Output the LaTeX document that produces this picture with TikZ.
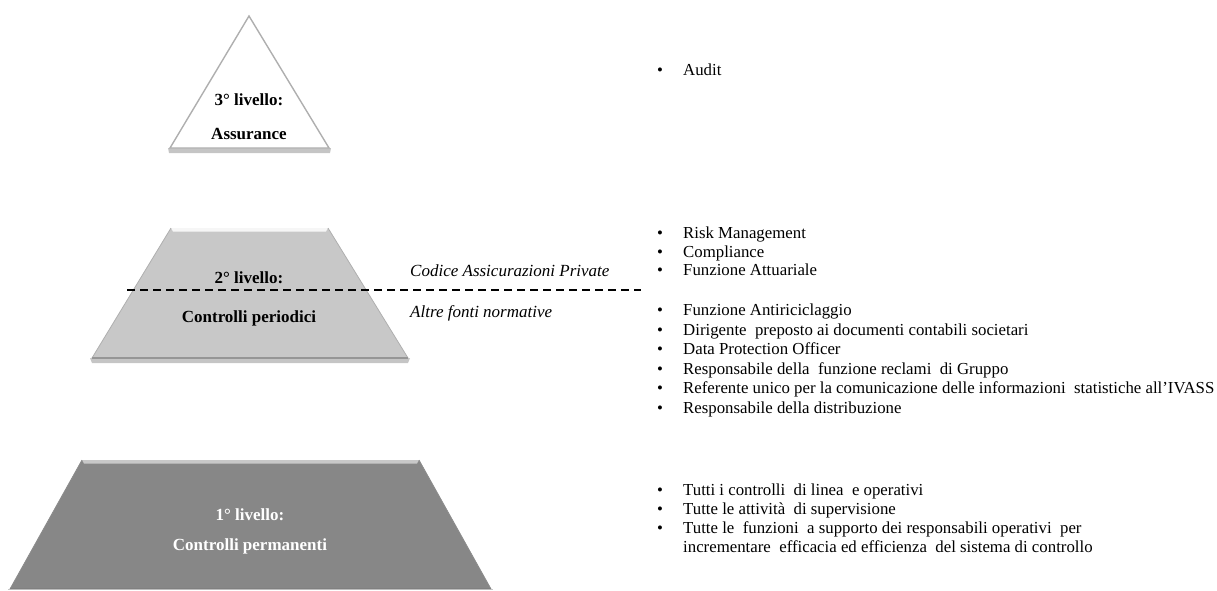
\documentclass[tikz,border=0pt]{standalone}
\usepackage{fontspec}
\setmainfont{Liberation Serif}
\definecolor{lvlA}{RGB}{255,255,255}
\definecolor{lvlB}{RGB}{200,200,200}
\definecolor{lvlC}{RGB}{135,135,135}
\definecolor{edgeA}{RGB}{175,175,175}
\definecolor{shad}{RGB}{150,150,150}
\tikzset{
  lvltext/.style={font=\fontsize{17}{20}\selectfont\bfseries, inner sep=0pt, anchor=base},
  item/.style={font=\fontsize{16.8}{20}\selectfont, inner sep=0pt, anchor=base west},
  bul/.style={font=\fontsize{16.8}{20}\selectfont, inner sep=0pt, anchor=base},
  norm/.style={font=\fontsize{17}{20}\selectfont\itshape, inner sep=0pt, anchor=base west},
  sepline/.style={line width=1.6pt, dash pattern=on 8pt off 5pt}
}
\newcommand{\bitem}[3]{%
  \node[bul] (b#1) at (660,#3) {•};
  \node[item] (t#1) at (683,#3) {#2};}
\begin{document}
\begin{tikzpicture}[x=1pt,y=-1pt]
\useasboundingbox (0,0) rectangle (1217,590);
% ---------- level 3 triangle ----------
\fill[shad, opacity=0.55] (168,148) -- (331,148) -- (330,153) -- (169,153) -- cycle;
\fill[lvlA] (249,16) -- (329,148) -- (170,148) -- cycle;
\draw[edgeA, line width=1.4pt, line join=miter] (249,16) -- (329,148) -- (170,148) -- cycle;
% ---------- level 2 trapezoid ----------
\fill[shad, opacity=0.55] (90,358) -- (410,358) -- (408,363) -- (92,363) -- cycle;
\fill[lvlB] (171,228) -- (328,228) -- (408,358) -- (92,358) -- cycle;
\fill[white, opacity=0.85] (171,228) -- (328,228) -- (326,231.5) -- (173,231.5) -- cycle;
\draw[edgeA, line width=0.8pt] (171,228) -- (92,358);
\draw[edgeA, line width=0.8pt] (328,228) -- (408,358);
\draw[shad, line width=1.4pt] (92,358) -- (408,358);
% ---------- level 1 trapezoid ----------
\fill[shad, opacity=0.55] (8,589) -- (493,589) -- (493,590) -- (8,590) -- cycle;
\fill[lvlC] (82,460) -- (419,460) -- (491,589) -- (10,589) -- cycle;
\fill[white, opacity=0.55] (82,460) -- (419,460) -- (417,463.5) -- (84,463.5) -- cycle;
\draw[black!45, line width=0.8pt] (82,460) -- (10,589);
\draw[black!45, line width=0.8pt] (419,460) -- (491,589);
\draw[black!50, line width=1.2pt] (10,588.5) -- (491,588.5);
% ---------- texts in shapes ----------
\node[lvltext] (l3a) at (249,105.5) {3° livello:};
\node[lvltext] (l3b) at (249,139.5) {Assurance};
\node[lvltext] (l2a) at (249,283.5) {2° livello:};
\node[lvltext] (l2b) at (249,322.5) {Controlli periodici};
\node[lvltext, text=white] (l1a) at (250,520.5) {1° livello:};
\node[lvltext, text=white] (l1b) at (250,550.5) {Controlli permanenti};
% ---------- dashed separator ----------
\coordinate (dsA) at (127,290);
\coordinate (dsB) at (641,290);
\draw[sepline] (dsA) -- (dsB);
\node[norm] (cap) at (410,276.5) {Codice Assicurazioni Private};
\node[norm] (afn) at (410,317.5) {Altre fonti normative};
% ---------- lists ----------
\bitem{1}{Audit}{75.5}
\bitem{2}{Risk Management}{238.5}
\bitem{3}{Compliance}{257.5}
\bitem{4}{Funzione Attuariale}{275.5}
\bitem{5}{Funzione Antiriciclaggio}{315.5}
\bitem{6}{Dirigente\ \ preposto ai documenti contabili societari}{335.5}
\bitem{7}{Data Protection Officer}{354.5}
\bitem{8}{Responsabile della\ \ funzione reclami\ \ di Gruppo}{374.5}
\bitem{9}{Referente unico per la comunicazione delle informazioni\ \ statistiche all’IVASS}{393.5}
\bitem{10}{Responsabile della distribuzione}{413.5}
\bitem{11}{Tutti i controlli\ \ di linea\ \ e operativi}{495.5}
\bitem{12}{Tutte le attività\ \ di supervisione}{514.5}
\bitem{13}{Tutte le\ \ funzioni\ \ a supporto dei responsabili operativi\ \ per}{533.5}
\node[item] (t14) at (683,552.5) {incrementare\ \ efficacia ed efficienza\ \ del sistema di controllo};
\end{tikzpicture}
\end{document}
